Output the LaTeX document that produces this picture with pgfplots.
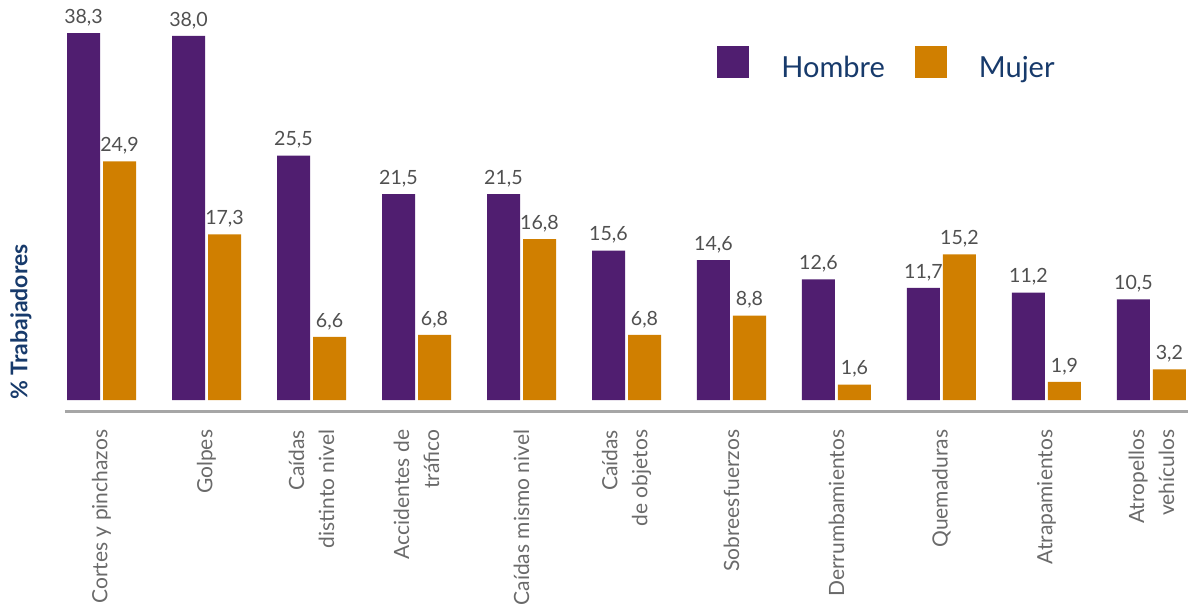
\documentclass[border=0pt]{standalone}
\usepackage{fontspec}
\setmainfont{Lato}
\usepackage{pgfplots}
\pgfplotsset{compat=1.18}
\definecolor{hombre}{HTML}{501E70}
\definecolor{mujer}{HTML}{D07F00}
\definecolor{navy}{HTML}{173A6B}
\definecolor{valgray}{HTML}{505050}
\definecolor{tickgray}{HTML}{6A6A6A}
\definecolor{axgray}{HTML}{A6A6A6}
\pgfplotsset{sqlegend/.style={legend image code/.code={\path[##1,draw=none] (0pt,-5pt) rectangle (16pt,11pt);}}}
\begin{document}
\begin{tikzpicture}
\begin{axis}[
 name=ax,
 scale only axis,
 width=561.5pt, height=205.75pt,
 ybar=1.5pt, bar width=16.5pt,
 xmin=-0.348, xmax=10.348,
 ymin=-1.2, ymax=41.75,
 axis x line*=bottom, axis y line=none,
 x axis line style={draw=axgray, line width=1.5pt},
 xtick={0,1,2,3,4,5,6,7,8,9,10},
 major tick length=0pt,
 xticklabels={Cortes y pinchazos, Golpes, Caídas\\distinto nivel, Accidentes de\\tráfico, Caídas mismo nivel, Caídas\\de objetos, Sobreesfuerzos, Derrumbamientos, Quemaduras, Atrapamientos, Atropellos\\vehículos},
 xticklabel style={rotate=90, anchor=east, align=right, inner sep=0pt, text=tickgray, font=\fontsize{10.5}{15}\selectfont},
 xticklabel shift=9pt,
 nodes near coords={\pgfmathprintnumber[fixed, fixed zerofill, precision=1, use comma, assume math mode=true]{\pgfplotspointmeta}},
 nodes near coords style={font=\fontsize{9.8}{11}\selectfont, text=valgray},
 clip=false,
 legend columns=2,
 legend style={at={(rel axis cs:0.5806,0.888)}, anchor=north west, draw=none, fill=none, inner sep=0pt,
   font=\fontsize{14.5}{17}\selectfont, text=navy,
   nodes={inner sep=0pt},
   /tikz/every odd column/.append style={column sep=16pt},
   /tikz/every even column/.append style={column sep=15pt}},
]
\addplot[fill=hombre, draw=none, sqlegend] coordinates {
 (0,38.3) (1,38.0) (2,25.5) (3,21.5) (4,21.5) (5,15.6) (6,14.6) (7,12.6) (8,11.7) (9,11.2) (10,10.5)};
\addlegendentry{Hombre}
\addplot[fill=mujer, draw=none, sqlegend] coordinates {
 (0,24.9) (1,17.3) (2,6.6) (3,6.8) (4,16.8) (5,6.8) (6,8.8) (7,1.6) (8,15.2) (9,1.9) (10,3.2)};
\addlegendentry{Mujer}
\end{axis}
\node[rotate=90, font=\fontsize{11.5}{13}\selectfont\bfseries, text=navy] at ([shift={(-22pt,44.75pt)}]ax.south west) {\% Trabajadores};
\pgfresetboundingbox
\path[use as bounding box] ([shift={(-32.5pt,-98.25pt)}]ax.south west) rectangle (ax.north east);
\end{tikzpicture}
\end{document}
